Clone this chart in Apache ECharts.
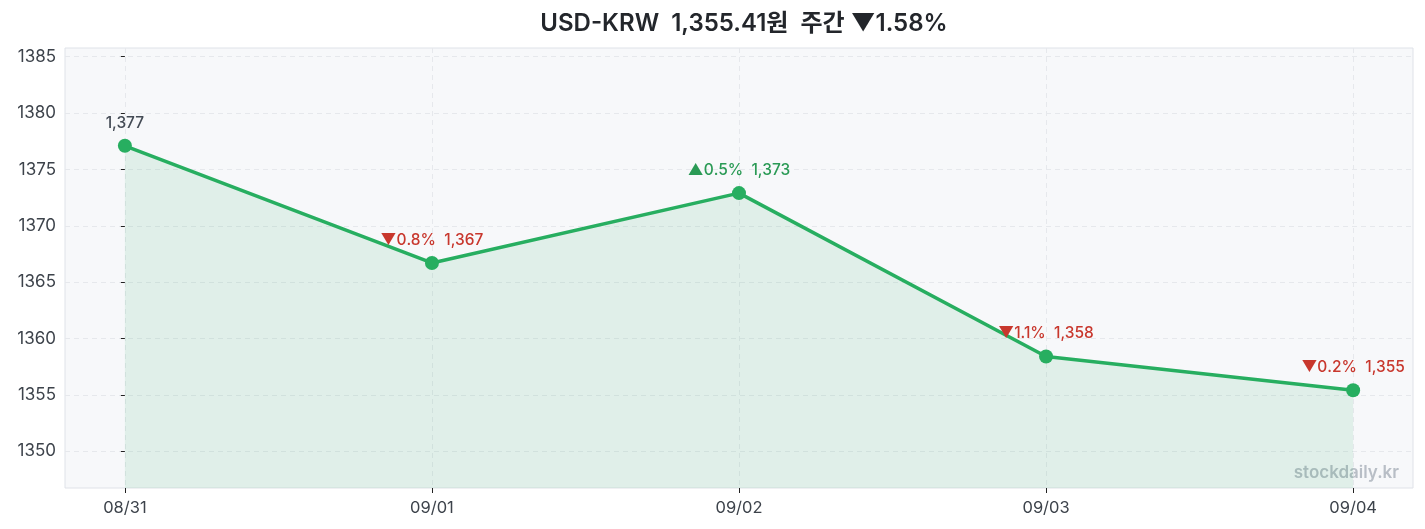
<!DOCTYPE html>
<html>
<head>
<meta charset="utf-8">
<script src="https://cdn.jsdelivr.net/npm/echarts@6/dist/echarts.min.js"></script>
<style>
  html, body { margin: 0; padding: 0; background: #fff; }
  #main { width: 1425px; height: 529px; }
</style>
</head>
<body>
<div id="main"></div>
<script>
// 데이터
var dates = ['08/31', '09/01', '09/02', '09/03', '09/04'];
var rates = [1377.1, 1366.7, 1372.9, 1358.4, 1355.41];
var changes = [null, -0.8, 0.5, -1.1, -0.2]; // 전일 대비 %
var yTicks = [1350, 1355, 1360, 1365, 1370, 1375, 1380, 1385];
var xTicks = [0, 1, 2, 3, 4];

var FONT = 'Inter, "Noto Sans CJK KR", sans-serif';
var UP = '#2a9a55', DOWN = '#c8372d';

function fmt(v) {
    return Math.round(v).toLocaleString('en-US');
}

var points = rates.map(function(v, i) {
    var c = changes[i];
    var txt, color;
    if (c == null) {
        txt = fmt(v);
        color = '#444b55';
    } else {
        txt = (c >= 0 ? '▲' : '▼') + Math.abs(c).toFixed(1) + '%  ' + fmt(v);
        color = c >= 0 ? UP : DOWN;
    }
    return {
        value: [i, v],
        label: { formatter: txt, color: color }
    };
});

var myChart = echarts.init(document.getElementById('main'));
var option = {
    backgroundColor: '#fff',
    textStyle: { fontFamily: FONT },
    title: {
        text: 'USD-KRW  1,355.41원  주간 ▼1.58%',
        left: 739,
        top: 7,
        textAlign: 'center',
        textStyle: { fontFamily: FONT, fontSize: 24, fontWeight: 600, color: '#23262b' }
    },
    grid: {
        left: 65, right: 12, top: 48, bottom: 41,
        outerBoundsMode: 'none',
        show: true,
        backgroundColor: '#f7f8fa',
        borderColor: '#dfe2e8',
        borderWidth: 1
    },
    xAxis: {
        type: 'value',
        min: -0.195,
        max: 4.195,
        axisLine: { show: false },
        axisTick: {
            show: true, length: 5, customValues: xTicks,
            lineStyle: { color: '#222' }
        },
        axisLabel: {
            customValues: xTicks,
            fontFamily: FONT, fontSize: 16.5, color: '#3d434b', margin: 12,
            formatter: function(v) { return dates[Math.round(v)]; }
        },
        splitLine: {
            show: true,
            lineStyle: { color: '#e6e8ec', type: [5, 4] }
        }
    },
    yAxis: {
        type: 'value',
        min: function(v) { return v.min - (v.max - v.min) * 0.4; },
        max: function(v) { return v.max + (v.max - v.min) * 0.4; },
        axisLine: { show: false },
        axisTick: {
            show: true, length: 4, customValues: yTicks,
            lineStyle: { color: '#222' }
        },
        axisLabel: {
            customValues: yTicks,
            fontFamily: FONT, fontSize: 17, color: '#3d434b', margin: 9,
            formatter: function(v) { return String(v); }
        },
        splitLine: {
            show: true,
            lineStyle: { color: '#e6e8ec', type: [5, 4] }
        }
    },
    graphic: [{
        type: 'text',
        right: 26,
        bottom: 48,
        style: {
            text: 'stockdaily.kr',
            font: '600 17px ' + FONT,
            fill: '#b8bec6'
        }
    }],
    series: [{
        type: 'line',
        data: points,
        symbol: 'circle',
        symbolSize: 14,
        lineStyle: { color: '#27ae60', width: 3.5 },
        itemStyle: { color: '#27ae60' },
        areaStyle: { color: 'rgba(39,174,96,0.15)' },
        label: {
            show: true,
            position: 'top',
            distance: 8,
            fontFamily: FONT,
            fontSize: 15.5,
            fontWeight: 500
        },
        animation: false
    }]
};
myChart.setOption(option);
</script>
</body>
</html>
